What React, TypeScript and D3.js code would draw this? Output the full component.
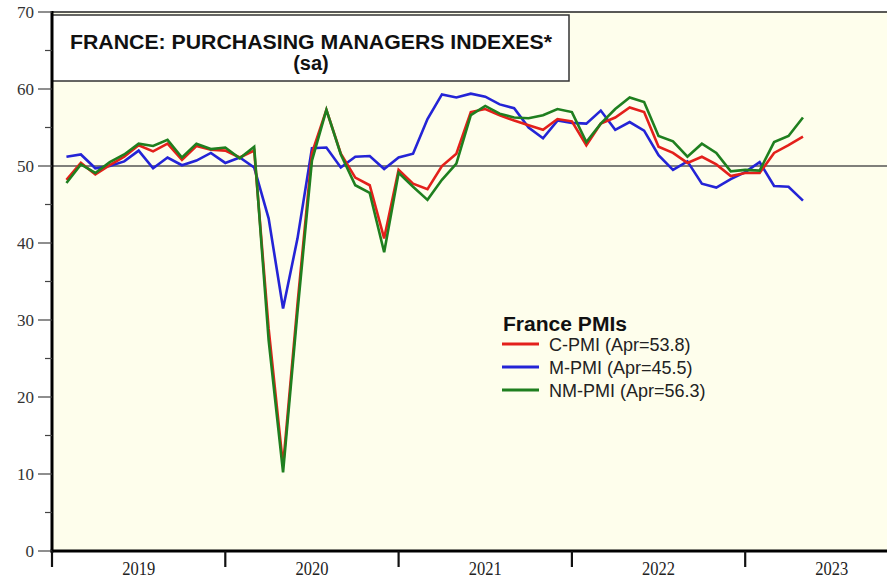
import React from "react";
import * as d3 from "d3";

// Monthly data Jan 2019 .. Apr 2023
const cPMI = [
  48.2, 50.4, 48.9, 50.1, 51.2, 52.7, 51.9, 52.9, 50.8, 52.6, 52.1, 52.0,
  51.1, 52.0, 28.9, 11.1, 32.1, 51.7, 57.3, 51.6, 48.5, 47.5, 40.6, 49.5,
  47.7, 47.0, 50.0, 51.6, 57.0, 57.4, 56.6, 55.9, 55.3, 54.7, 56.1, 55.8,
  52.7, 55.5, 56.3, 57.6, 57.0, 52.5, 51.7, 50.4, 51.2, 50.2, 48.7, 49.1,
  49.1, 51.7, 52.7, 53.8,
];
const mPMI = [
  51.2, 51.5, 49.7, 50.0, 50.6, 52.0, 49.7, 51.1, 50.1, 50.7, 51.7, 50.4,
  51.1, 49.8, 43.2, 31.5, 40.6, 52.3, 52.4, 49.8, 51.2, 51.3, 49.6, 51.1,
  51.6, 56.1, 59.3, 58.9, 59.4, 59.0, 58.0, 57.5, 55.0, 53.6, 55.9, 55.6,
  55.5, 57.2, 54.7, 55.7, 54.6, 51.4, 49.5, 50.6, 47.7, 47.2, 48.3, 49.2,
  50.5, 47.4, 47.3, 45.5,
];
const nmPMI = [
  47.8, 50.2, 49.1, 50.5, 51.5, 52.9, 52.6, 53.4, 51.1, 52.9, 52.2, 52.4,
  51.0, 52.5, 27.4, 10.2, 31.1, 50.7, 57.3, 51.5, 47.5, 46.5, 38.8, 49.1,
  47.3, 45.6, 48.2, 50.3, 56.6, 57.8, 56.8, 56.3, 56.2, 56.6, 57.4, 57.0,
  53.1, 55.5, 57.4, 58.9, 58.3, 53.9, 53.2, 51.2, 52.9, 51.7, 49.3, 49.5,
  49.4, 53.1, 53.9, 56.3,
];
const years = ["2019", "2020", "2021", "2022", "2023"];
const yMajorTicks = [0, 10, 20, 30, 40, 50, 60, 70];
const yMinorTicks = [5, 15, 25, 35, 45, 55, 65];
const seriesNames = ["C-PMI (Apr=53.8)", "M-PMI (Apr=45.5)", "NM-PMI (Apr=56.3)"];
const seriesColors = ["#e3201b", "#2424d6", "#1f7f1f"];

const W = 887;
const H = 579;
const left = 52;
const top = 12;
const bottom = 551;
const monthW = 173.3 / 12;

export default function App() {
  const x = d3.scaleLinear().domain([0, 60]).range([left, left + monthW * 60]);
  const y = d3.scaleLinear().domain([0, 70]).range([bottom, top]);
  const line = d3
    .line<number>()
    .x((_, i) => x(i + 1))
    .y((d) => y(d));
  const series = [cPMI, mPMI, nmPMI];
  const drawOrder = [1, 0, 2];
  const serif = "'Liberation Serif', 'DejaVu Serif', serif";
  const sans = "'Liberation Sans', Arial, sans-serif";

  return (
    <svg
      width={W}
      height={H}
      style={{ position: "absolute", left: 0, top: 0, background: "#fff" }}
    >
      <rect x={left} y={top} width={W - left} height={bottom - top} fill="#fefeec" />
      {/* reference line at 50 */}
      <line x1={left} x2={W} y1={y(50)} y2={y(50)} stroke="#555" strokeWidth={1.5} />
      {/* top frame */}
      <line x1={left} x2={W} y1={top} y2={top} stroke="#222" strokeWidth={1.5} />
      {/* series */}
      {drawOrder.map((k) => (
        <path
          key={k}
          d={line(series[k]) || ""}
          fill="none"
          stroke={seriesColors[k]}
          strokeWidth={2.6}
          strokeLinejoin="miter"
        />
      ))}
      {/* title box */}
      <rect x={left} y={15} width={569 - left} height={81 - 15} fill="#fff" stroke="#333" strokeWidth={1.5} />
      <text
        x={311}
        y={49}
        textAnchor="middle"
        fontFamily={sans}
        fontWeight="bold"
        fontSize={20}
        fill="#111"
        textLength={482}
        lengthAdjust="spacingAndGlyphs"
      >
        FRANCE: PURCHASING MANAGERS INDEXES*
      </text>
      <text x={311} y={70} textAnchor="middle" fontFamily={sans} fontWeight="bold" fontSize={20} fill="#111">
        (sa)
      </text>
      {/* axes */}
      <line x1={left} x2={left} y1={top - 1} y2={bottom + 1.5} stroke="#000" strokeWidth={3} />
      <line x1={left - 1.5} x2={W} y1={bottom} y2={bottom} stroke="#000" strokeWidth={3} />
      {yMajorTicks.map((t) => (
        <g key={"ym" + t}>
          <line x1={left - 14} x2={left} y1={y(t)} y2={y(t)} stroke="#444" strokeWidth={1.2} />
          <text x={34} y={y(t)} dy="0.35em" textAnchor="end" fontFamily={serif} fontSize={17} fill="#333">
            {t}
          </text>
        </g>
      ))}
      {yMinorTicks.map((t) => (
        <line key={"yn" + t} x1={left - 7} x2={left} y1={y(t)} y2={y(t)} stroke="#444" strokeWidth={1.2} />
      ))}
      {years.map((yr, i) => (
        <g key={yr}>
          <line x1={x(i * 12)} x2={x(i * 12)} y1={bottom} y2={567} stroke="#111" strokeWidth={2.2} />
          <text
            x={x(i * 12 + 6)}
            y={575}
            textAnchor="middle"
            fontFamily={serif}
            fontSize={19}
            fill="#222"
            textLength={33}
            lengthAdjust="spacingAndGlyphs"
          >
            {yr}
          </text>
        </g>
      ))}
      {/* legend */}
      <text x={503} y={331} fontFamily={sans} fontWeight="bold" fontSize={20} fill="#111" textLength={124} lengthAdjust="spacingAndGlyphs">
        France PMIs
      </text>
      {seriesNames.map((n, i) => (
        <g key={n}>
          <line x1={502} x2={539} y1={344 + i * 23} y2={344 + i * 23} stroke={seriesColors[i]} strokeWidth={3} />
          <text x={549} y={351 + i * 23} fontFamily={sans} fontSize={18} fill="#222">
            {n}
          </text>
        </g>
      ))}
    </svg>
  );
}
